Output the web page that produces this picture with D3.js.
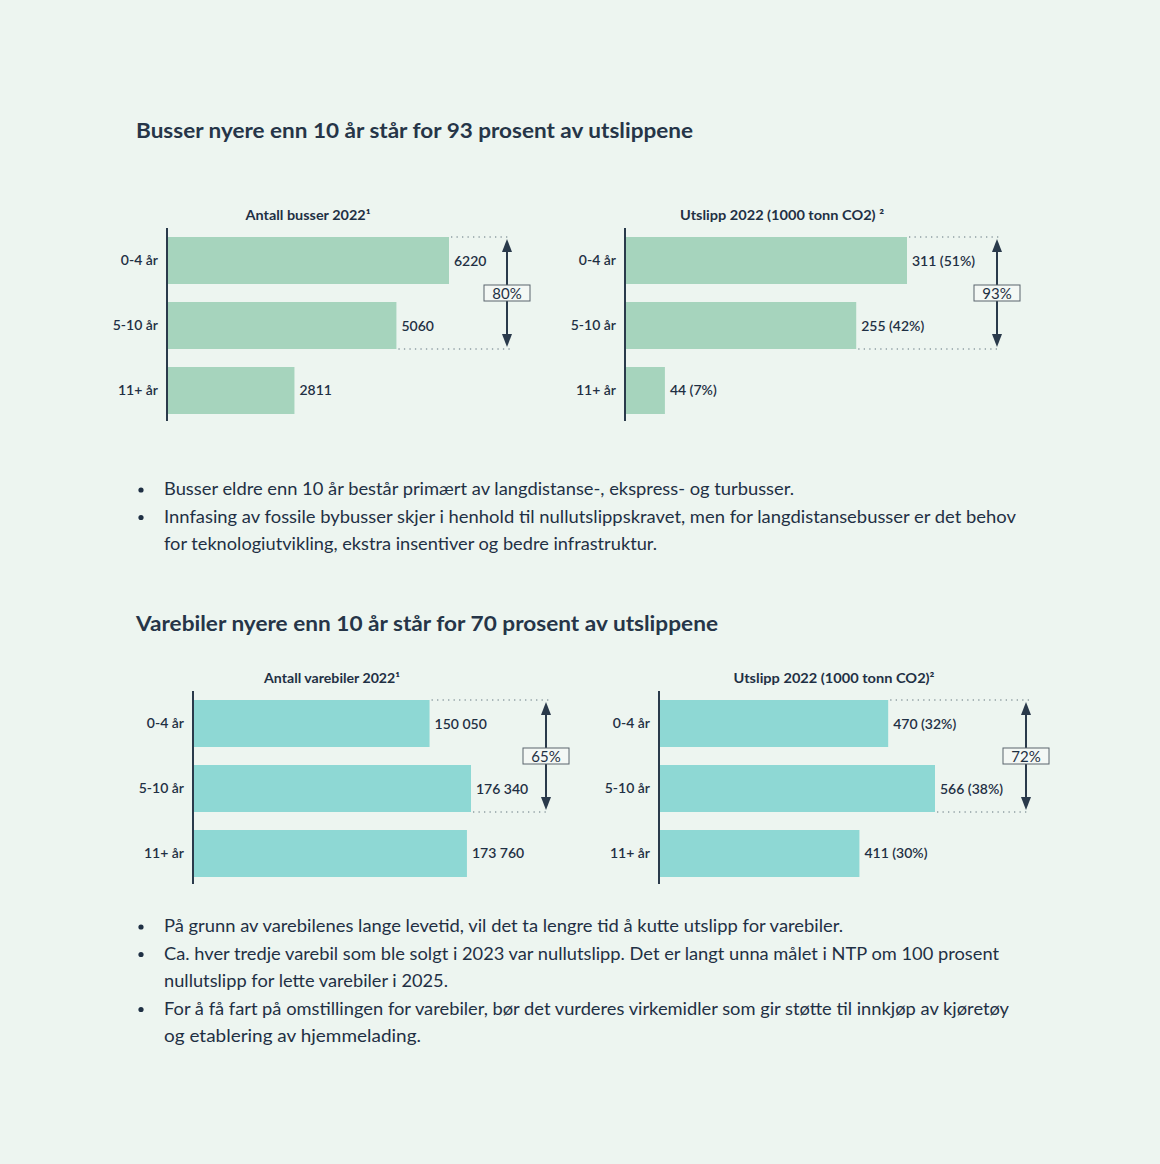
<!DOCTYPE html>
<html>
<head>
<meta charset="utf-8">
<script src="https://cdn.jsdelivr.net/npm/d3@7"></script>
<style>
  html, body { margin: 0; padding: 0; background: #edf5f0; }
  svg { display: block; }
  text { font-family: Lato, "Noto Sans", sans-serif; fill: #1f3044; }
</style>
</head>
<body>
<svg id="chart" width="1160" height="1164"></svg>
<script>
// ---------- DATA ----------
const categories = ["0-4 år", "5-10 år", "11+ år"];

const busTitle = "Busser nyere enn 10 år står for 93 prosent av utslippene";
const busCountTitle = "Antall busser 2022\u00B9";
const busCount = [6220, 5060, 2811];
const busEmissionTitle = "Utslipp 2022 (1000 tonn CO2) \u00B2";
const busEmission = [311, 255, 44];
const busEmissionShare = ["51%", "42%", "7%"];
const busCountBracket = "80%";
const busEmissionBracket = "93%";

const vanTitle = "Varebiler nyere enn 10 år står for 70 prosent av utslippene";
const vanCountTitle = "Antall varebiler 2022\u00B9";
const vanCount = [150050, 176340, 173760];
const vanEmissionTitle = "Utslipp 2022 (1000 tonn CO2)\u00B2";
const vanEmission = [470, 566, 411];
const vanEmissionShare = ["32%", "38%", "30%"];
const vanCountBracket = "65%";
const vanEmissionBracket = "72%";

const busBullets = [
  ["Busser eldre enn 10 år består primært av langdistanse-, ekspress- og turbusser."],
  ["Innfasing av fossile bybusser skjer i henhold til nullutslippskravet, men for langdistansebusser er det behov",
   "for teknologiutvikling, ekstra insentiver og bedre infrastruktur."]
];
const vanBullets = [
  ["På grunn av varebilenes lange levetid, vil det ta lengre tid å kutte utslipp for varebiler."],
  ["Ca. hver tredje varebil som ble solgt i 2023 var nullutslipp. Det er langt unna målet i NTP om 100 prosent",
   "nullutslipp for lette varebiler i 2025."],
  ["For å få fart på omstillingen for varebiler, bør det vurderes virkemidler som gir støtte til innkjøp av kjøretøy",
   "og etablering av hjemmelading."]
];

// ---------- STYLE / LAYOUT ----------
const C = {
  text: "#1f3044",
  green: "#a6d4bd",
  teal: "#8ed8d4",
  axis: "#2a3a4b",
  dots: "#8f9ea3",
  boxStroke: "#5a646c",
  boxFill: "#f4f8f5"
};

const plainFmt = d3.format("d");
const spaceLocale = d3.formatLocale({decimal: ",", thousands: "\u00A0", grouping: [3], currency: ["", ""]});
const spaceFmt = spaceLocale.format(",d");

const svg = d3.select("#chart");
svg.append("rect").attr("width", 1160).attr("height", 1164).attr("fill", "#edf5f0");

function sectionTitle(txt, y, w) {
  svg.append("text").attr("x", 136).attr("y", y)
    .attr("font-size", 21.5).attr("font-weight", 700)
    .attr("textLength", w).attr("lengthAdjust", "spacingAndGlyphs")
    .style("fill", "#263548")
    .text(txt);
}

function barChart(cfg) {
  const g = svg.append("g");
  const x = d3.scaleLinear().domain([0, d3.max(cfg.values)]).range([cfg.ax, cfg.ax + cfg.maxLen]);
  const y = d3.scaleBand().domain(categories).range([cfg.top, cfg.top + 195])
    .paddingInner(18 / 65).paddingOuter(0.1385);

  // title
  g.append("text").attr("x", cfg.titleX).attr("y", cfg.top - 8)
    .attr("text-anchor", "middle").attr("font-size", 14).attr("font-weight", 700)
    .attr("textLength", cfg.titleW).attr("lengthAdjust", "spacingAndGlyphs")
    .text(cfg.title);

  // bars
  g.selectAll("rect.bar").data(cfg.values).join("rect")
    .attr("class", "bar")
    .attr("x", x(0)).attr("y", (d, i) => y(categories[i]))
    .attr("width", d => x(d) - x(0)).attr("height", y.bandwidth())
    .attr("fill", cfg.color);

  // value labels
  g.selectAll("text.val").data(cfg.values).join("text")
    .attr("class", "val")
    .attr("x", d => x(d) + 5)
    .attr("y", (d, i) => y(categories[i]) + y.bandwidth() / 2 + 5)
    .attr("font-size", 14).attr("font-weight", 600)
    .text((d, i) => cfg.label(d, i));

  // y axis
  const yAxis = d3.axisLeft(y).tickSize(0).tickPadding(8);
  const ag = g.append("g").attr("transform", `translate(${cfg.ax},0)`).call(yAxis);
  ag.select(".domain").remove();
  ag.selectAll("text").attr("font-size", 14).attr("font-weight", 600)
    .style("font-family", "Lato, sans-serif").style("fill", C.text).attr("dx", -1);
  g.append("line").attr("x1", cfg.ax).attr("x2", cfg.ax)
    .attr("y1", cfg.top).attr("y2", cfg.top + 193)
    .attr("stroke", C.axis).attr("stroke-width", 2);

  // bracket: dotted guides
  const y0 = y(categories[0]);
  const y1 = y(categories[1]) + y.bandwidth();
  g.append("line").attr("x1", x(cfg.values[0]) + 2).attr("x2", cfg.arrowX + 3)
    .attr("y1", y0).attr("y2", y0)
    .attr("stroke", C.dots).attr("stroke-width", 1.3).attr("stroke-dasharray", "1.3 4.2");
  g.append("line").attr("x1", x(cfg.values[1]) + 2).attr("x2", cfg.arrowX + 3)
    .attr("y1", y1).attr("y2", y1)
    .attr("stroke", C.dots).attr("stroke-width", 1.3).attr("stroke-dasharray", "1.3 4.2");

  // arrow
  const ax = cfg.arrowX;
  g.append("line").attr("x1", ax).attr("x2", ax).attr("y1", y0 + 8).attr("y2", y1 - 8)
    .attr("stroke", C.axis).attr("stroke-width", 2);
  g.append("path").attr("d", `M${ax},${y0 + 2} L${ax - 5},${y0 + 15} L${ax + 5},${y0 + 15} Z`).attr("fill", C.axis);
  g.append("path").attr("d", `M${ax},${y1 - 2} L${ax - 5},${y1 - 15} L${ax + 5},${y1 - 15} Z`).attr("fill", C.axis);

  // box
  const my = (y0 + y1) / 2;
  g.append("rect").attr("x", ax - 23).attr("y", my - 8).attr("width", 46).attr("height", 16)
    .attr("fill", C.boxFill).attr("stroke", C.boxStroke).attr("stroke-width", 1);
  g.append("text").attr("x", ax).attr("y", my + 5.5).attr("text-anchor", "middle")
    .attr("font-size", 15).attr("font-weight", 400).text(cfg.bracket);
}

function bullets(list, y0, widths) {
  let y = y0, k = 0;
  list.forEach(item => {
    svg.append("circle").attr("cx", 141).attr("cy", y - 5).attr("r", 2.6).attr("fill", C.text);
    item.forEach(line => {
      svg.append("text").attr("x", 164).attr("y", y)
        .attr("font-size", 17).attr("font-weight", 400)
        .attr("textLength", widths[k]).attr("lengthAdjust", "spacingAndGlyphs")
        .text(line);
      y += 27.5; k++;
    });
  });
}

// ---------- BUS SECTION ----------
sectionTitle(busTitle, 138, 557);
barChart({ values: busCount, ax: 167, maxLen: 282, top: 228, titleX: 308, titleW: 125, title: busCountTitle,
  color: C.green, arrowX: 507, bracket: busCountBracket, label: d => plainFmt(d) });
barChart({ values: busEmission, ax: 625, maxLen: 282, top: 228, titleX: 782, titleW: 204, title: busEmissionTitle,
  color: C.green, arrowX: 997, bracket: busEmissionBracket,
  label: (d, i) => `${plainFmt(d)} (${busEmissionShare[i]})` });
bullets(busBullets, 495, [630, 852, 493]);

// ---------- VAN SECTION ----------
sectionTitle(vanTitle, 631, 582);
barChart({ values: vanCount, ax: 193, maxLen: 278, top: 691, titleX: 332, titleW: 136, title: vanCountTitle,
  color: C.teal, arrowX: 546, bracket: vanCountBracket, label: d => spaceFmt(d) });
barChart({ values: vanEmission, ax: 659, maxLen: 276, top: 691, titleX: 834, titleW: 201, title: vanEmissionTitle,
  color: C.teal, arrowX: 1026, bracket: vanEmissionBracket,
  label: (d, i) => `${plainFmt(d)} (${vanEmissionShare[i]})` });
bullets(vanBullets, 932, [679, 835, 284, 845, 257]);
</script>
</body>
</html>
